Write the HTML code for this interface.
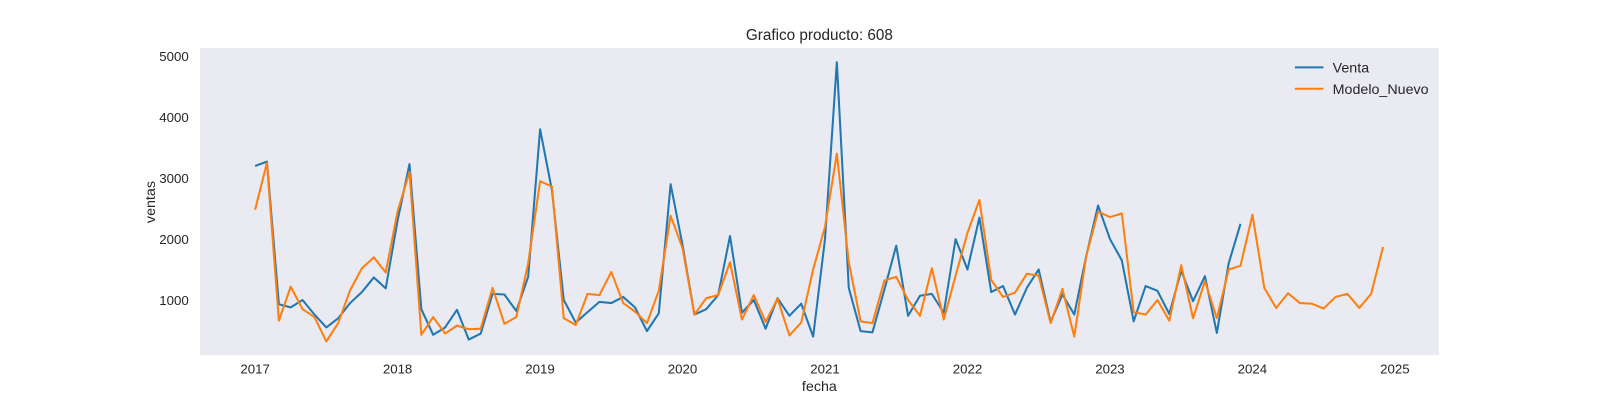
<!DOCTYPE html>
<html><head><meta charset="utf-8"><style>
body{margin:0;background:#fff;font-family:"Liberation Sans",sans-serif;overflow:hidden;}
svg{display:block;}
svg text{font-family:"Liberation Sans",sans-serif;fill:#262626;}
</style></head><body>
<svg id="c" width="1600" height="400" viewBox="0 0 1568 392">
<rect x="196" y="47" width="1214" height="301" fill="#eaeaf2"/>
<text x="803" y="39" font-size="15" text-anchor="middle">Grafico producto: 608</text>
<text x="803" y="383" font-size="14" text-anchor="middle">fecha</text>
<text x="152" y="198" font-size="14" text-anchor="middle" transform="rotate(-90 152 198)">ventas</text>
<g id="ticks"></g>
<g id="series"></g>
<g>
<line x1="1269" y1="66" x2="1297" y2="66" stroke="#1f77b4" stroke-width="2"/>
<text x="1306" y="71" font-size="14">Venta</text>
<line x1="1269" y1="87" x2="1297" y2="87" stroke="#ff7f0e" stroke-width="2"/>
<text x="1306" y="92" font-size="14">Modelo_Nuevo</text>
</g>
</svg>
<script>
const yTicks=[1000,2000,3000,4000,5000];
const xTickYears=[2017,2018,2019,2020,2021,2022,2023,2024,2025];
const venta=[3200,3270,930,880,1000,760,550,700,950,1130,1370,1190,
2300,3230,850,430,550,840,350,450,1100,1090,820,1380,
3800,2800,1000,630,800,970,950,1050,880,490,780,2900,
1900,760,850,1080,2050,790,1000,530,1030,740,940,400,
2000,4900,1200,490,470,1170,1890,740,1070,1100,790,2000,
1500,2350,1130,1230,760,1200,1500,640,1090,760,1720,2550,
2000,1650,650,1230,1150,770,1480,980,1390,460,1600,2250];
const modelo=[2480,3250,660,1220,850,720,320,620,1160,1520,1700,1450,
2450,3100,430,720,450,580,520,530,1200,610,720,1600,
2950,2860,700,590,1100,1080,1460,950,810,620,1150,2380,
1850,760,1030,1080,1620,680,1080,640,1020,420,630,1500,
2200,3400,1620,650,620,1320,1380,1000,740,1520,680,1400,
2100,2640,1330,1050,1120,1430,1400,620,1180,400,1720,2450,
2360,2420,800,760,1000,660,1570,700,1310,700,1500,1560,
2400,1200,870,1110,950,940,860,1050,1100,870,1100,1870];
const NS="http://www.w3.org/2000/svg";
function xMonth(i){return 250+i*(1367-250)/96;}
function xYear(yr){return xMonth((yr-2017)*12);}
function yVal(v){return 353.75-v*0.05975;}
const tg=document.getElementById('ticks');
yTicks.forEach(v=>{const t=document.createElementNS(NS,'text');
t.setAttribute('x',185);t.setAttribute('y',yVal(v)+5);t.setAttribute('font-size','13');t.setAttribute('text-anchor','end');


t.textContent=v;tg.appendChild(t);});
xTickYears.forEach(yr=>{const t=document.createElementNS(NS,'text');
t.setAttribute('x',xYear(yr));t.setAttribute('y',366);t.setAttribute('font-size','13');t.setAttribute('text-anchor','middle');


t.textContent=yr;tg.appendChild(t);});
const sg=document.getElementById('series');
function line(arr,color,name){const p=document.createElementNS(NS,'polyline');
p.setAttribute('points',arr.map((v,i)=>xMonth(i).toFixed(1)+','+yVal(v).toFixed(1)).join(' '));
p.setAttribute('fill','none');p.setAttribute('stroke',color);p.setAttribute('stroke-width','2');p.setAttribute('stroke-linejoin','round');


sg.appendChild(p);}
line(venta,'#1f77b4','venta-line');
line(modelo,'#ff7f0e','modelo-nuevo-line');
</script>
</body></html>
